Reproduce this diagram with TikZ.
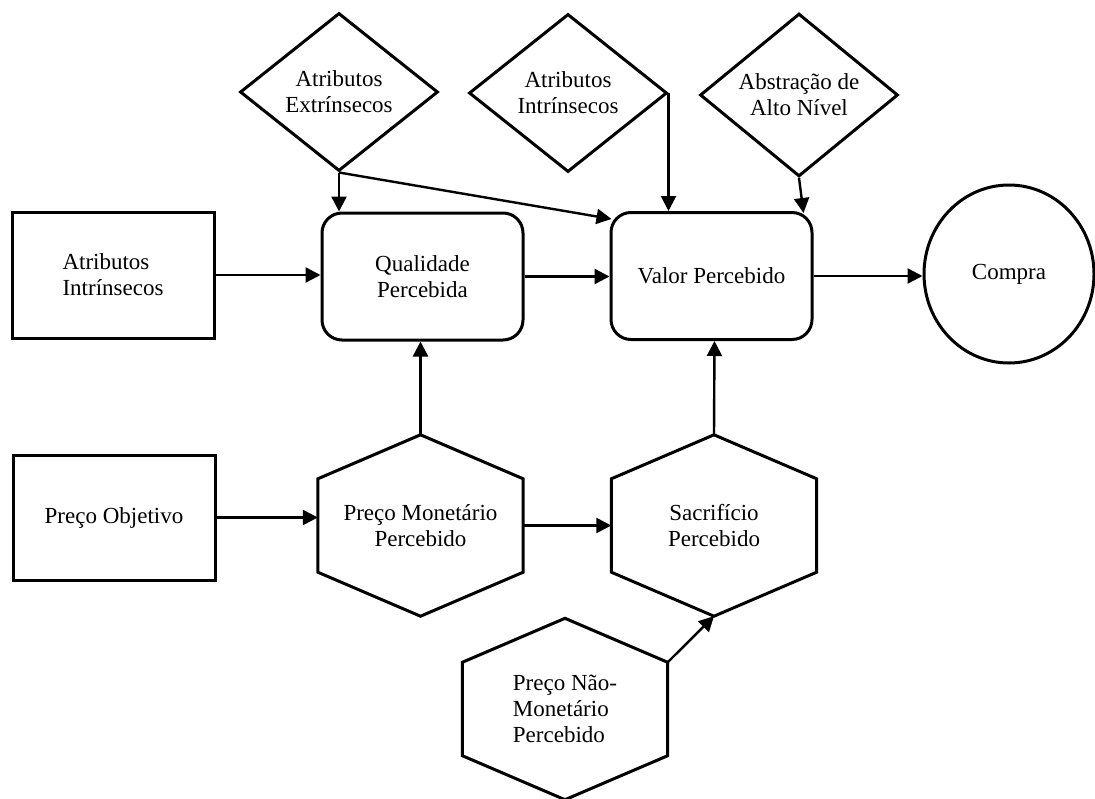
\documentclass[tikz,border=0pt]{standalone}
\usepackage{fontspec}
\setmainfont{Liberation Serif}
\usetikzlibrary{arrows.meta,shapes.geometric,calc}

% outline of a hexagon with pointed top and bottom around a plain node
\newcommand\hexoutline[1]{%
  \coordinate (#1-top) at ($(#1.north)+(0,-44)$);
  \coordinate (#1-bot) at ($(#1.south)+(0,44)$);
  \draw[boxline] (#1.north west) -- (#1-top) -- (#1.north east)
    -- (#1.south east) -- (#1-bot) -- (#1.south west) -- cycle;
}

\begin{document}
\begin{tikzpicture}[x=1pt,y=-1pt,
  every node/.style={font=\fontsize{23}{26}\selectfont, inner sep=0pt},
  boxline/.style={draw, line width=3pt, line join=miter},
  plainbox/.style={boxline, rectangle, minimum width=202pt, minimum height=126pt},
  roundbox/.style={boxline, rectangle, rounded corners=20pt, minimum width=201pt, minimum height=127pt},
  diam/.style={boxline, diamond, minimum width=198pt, minimum height=158pt},
  hexbox/.style={rectangle, minimum width=205pt, minimum height=93pt},
  link/.style={line width=2.4pt, -{Triangle[length=15pt,width=15pt]}},
]
\useasboundingbox (0,0) rectangle (1095,798);

% left column
\node[plainbox, align=left] (ai1) at (113,275) {Atributos\\Intrínsecos};
\node[plainbox, minimum height=125pt] (po) at (114,517.5) {Preço Objetivo};

% central boxes
\node[roundbox, align=center] (qp) at (422.5,276.5) {Qualidade\\Percebida};
\node[roundbox] (vp) at (711.5,276) {Valor Percebido};
\node[boxline, ellipse, minimum width=170pt, minimum height=178pt] (compra) at (1009,274) {Compra};

% diamonds on top
\node[diam, align=center] (dext) at (339,92) {Atributos\\Extrínsecos};
\node[diam, align=center] (dint) at (568,93) {Atributos\\Intrínsecos};
\node[diam, align=center] (dabs) at (799,95) {Abstração de\\Alto Nível};

% hexagons
\node[hexbox, align=center] (pmp) at (420.5,525.5) {Preço Monetário\\Percebido};
\hexoutline{pmp}
\node[hexbox, align=center] (sp) at (714,525.5) {Sacrifício\\Percebido};
\hexoutline{sp}
\node[hexbox, align=left] (pnmp) at (565,709) {Preço Não-\\Monetário\\Percebido};
\hexoutline{pnmp}

% connectors
\draw[link] (ai1.east) -- (ai1.east -| qp.west);
\draw[link] (qp.east) -- (qp.east -| vp.west);
\draw[link] (vp.east) -- (vp.east -| compra.west);
\draw[link] (dext.south) -- (dext.south |- qp.north);
\draw[link] (dext.south) -- ($(vp.north west)+(2,8)$);
\draw[link] (dint.east) -- (dint.east |- vp.north);
\draw[link] (dabs.south) -- ($(vp.north east)+(-10,2)$);
\draw[link] (pmp-top) -- (pmp-top |- qp.south);
\draw[link] (sp-top) -- ($(vp.south)+(3,0)$);
\draw[link] (po.east) -- (po.east -| pmp.west);
\draw[link] (pmp.east) -- (pmp.east -| sp.west);
\draw[link] (pnmp.north east) -- (sp-bot);
\end{tikzpicture}
\end{document}
